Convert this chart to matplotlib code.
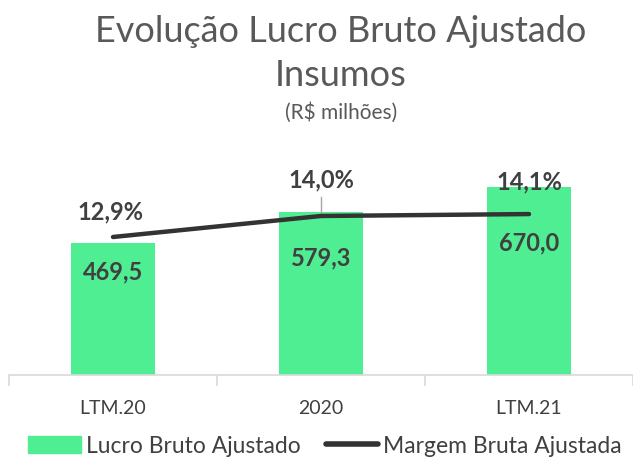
import matplotlib
matplotlib.use("Agg")
import matplotlib.pyplot as plt

categories = ["LTM.20", "2020", "LTM.21"]
lucro = [469.5, 579.3, 670.0]
margem = [12.9, 14.0, 14.1]
lucro_labels = ["469,5", "579,3", "670,0"]
margem_labels = ["12,9%", "14,0%", "14,1%"]

plt.rcParams['font.family'] = ['Lato', 'DejaVu Sans']

W, H = 633, 460
fig = plt.figure(figsize=(W/100, H/100), dpi=100)
ax = fig.add_axes([9/W, 84/H, 624/W, 236/H])

green = "#50EE92"
dark = "#333333"
txt = "#404040"

x = list(range(len(categories)))
ax.bar(x, lucro, width=0.4, color=green, zorder=2)
ax.set_ylim(0, 236/0.281)
ax.set_xlim(-0.5, 2.493)

ax2 = ax.twinx()
ax2.set_position(ax.get_position())
ax2.plot(x, margem, color=dark, lw=3.2, solid_capstyle='round', zorder=3)
ax2.set_ylim(5.675, 18.03)

for a in (ax, ax2):
    for s in ["top", "right", "left"]:
        a.spines[s].set_visible(False)
    a.set_yticks([])
ax2.spines["bottom"].set_visible(False)
ax.spines["bottom"].set_color("#D9D9D9")
ax.spines["bottom"].set_linewidth(1.2)

ax.set_xticks([-0.5, 0.5, 1.5, 2.5])
ax.set_xticklabels([])
ax.tick_params(axis='x', length=8, color="#D9D9D9", width=1.2)
for i, c in enumerate(categories):
    ax.annotate(c, (i, 0), xytext=(0, -33), textcoords="offset pixels",
                ha="center", va="center", fontsize=14, color=txt)

val_off = [-28, -45, -55]
for i, (v, l) in enumerate(zip(lucro, lucro_labels)):
    ax.annotate(l, (i, v), xytext=(0, val_off[i]), textcoords="offset pixels",
                ha="center", va="center", fontsize=17, fontweight="bold",
                color=txt, zorder=5)

m_off = [(-3, 26), (0, 37), (0, 33)]
for i, (v, l) in enumerate(zip(margem, margem_labels)):
    ax2.annotate(l, (i, v), xytext=m_off[i], textcoords="offset pixels",
                 ha="center", va="center", fontsize=17, fontweight="bold",
                 color=txt, zorder=5)
ax2.plot([1, 1], [margem[1], margem[1] + 19/19.1], color="#A6A6A6", lw=1, zorder=2)

title_color = "#595959"
fig.text(341/W, 1 - 32/H, "Evolução Lucro Bruto Ajustado", ha="center", va="center",
         fontsize=26, color=title_color)
fig.text(341/W, 1 - 75/H, "Insumos", ha="center", va="center", fontsize=26,
         color=title_color)
fig.text(341/W, 1 - 113/H, "(R$ milhões)", ha="center", va="center", fontsize=15,
         color=title_color)

from matplotlib.patches import Patch
from matplotlib.lines import Line2D
handles = [Patch(color=green, label="Lucro Bruto Ajustado"),
           Line2D([0], [0], color=dark, lw=4, solid_capstyle='round', label="Margem Bruta Ajustada")]
fig.legend(handles=handles, loc="center", bbox_to_anchor=(325/W, 1 - 447/H), ncol=2, frameon=False,
           fontsize=16.5, labelcolor=txt, handlelength=2.3, handletextpad=0.2, columnspacing=1.1)

fig.savefig("out.png", dpi=100)
